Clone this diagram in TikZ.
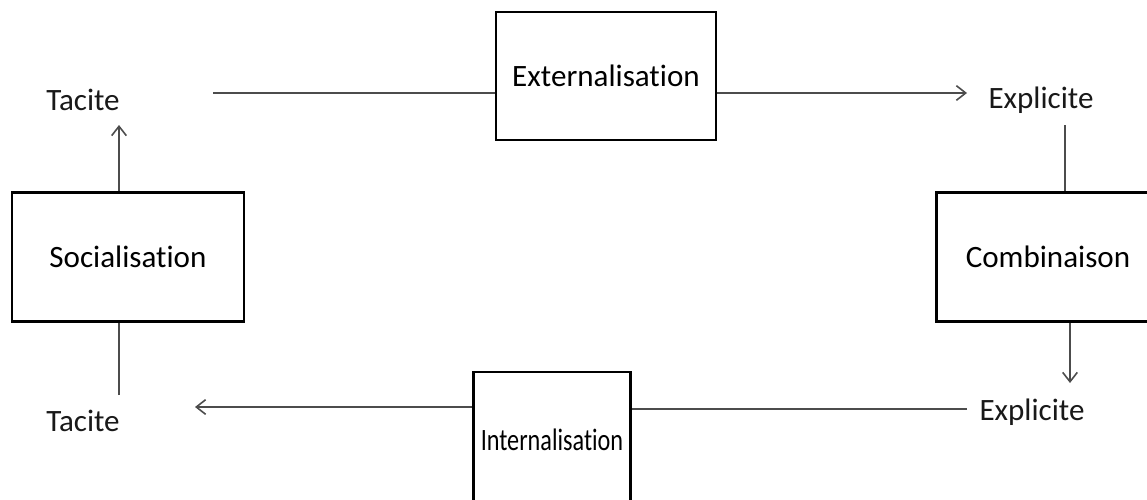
\documentclass[tikz,border=0pt]{standalone}
\usepackage{fontspec}
\usepackage{graphicx}
\setmainfont{Carlito}[Ligatures=NoCommon]
\usetikzlibrary{calc,arrows.meta}

\begin{document}
\begin{tikzpicture}[x=0.75pt,y=-0.75pt,font=\fontsize{23.3}{27}\selectfont,
  boite/.style={draw=black,line width=2.2pt,inner sep=0pt},
  etat/.style={inner sep=0pt,text=black!90},
  lien/.style={draw=black!70,line width=1.2pt},
  fleche/.style={lien,-{Straight Barb[length=7pt,width=11pt,line width=1.2pt]}}]
\useasboundingbox (0,0) rectangle (1147,500);
% les quatre etapes
\node[boite,minimum width=165pt,minimum height=96pt] (ext) at (606,76) {Externalisation};
\node[boite,minimum width=174pt,minimum height=97pt] (soc) at (128,257) {Socialisation};
\node[boite,minimum width=167pt,minimum height=97pt] (comb) at (1048,257) {Combinaison};
\node[boite,minimum width=118pt,minimum height=102pt] (int) at (552,440) {\scalebox{0.78}[1]{Internalisation}};
% les etats
\node[etat] (tac1) at (83,100) {Tacite};
\node[etat] (tac2) at (83,421) {Tacite};
\node[etat] (exp1) at (1041,100) {Explicite};
\node[etat] (exp2) at (1032,412) {Explicite};
% extremites libres
\coordinate (h1) at (213,93);
\coordinate (h2) at (967,93);
\coordinate (v1) at (119,125);
\coordinate (v2) at (119,395);
\coordinate (v3) at (1065,125);
\coordinate (v4) at (1070,383);
\coordinate (b1) at (195,407);
\coordinate (b2) at (967,409);
\draw[lien] (h1) -- (ext.west |- h1);
\draw[fleche] (ext.east |- h1) -- (h2);
\draw[lien] (v3) -- (comb.north -| v3);
\draw[fleche] (comb.south -| v4) -- (v4);
\draw[lien] (b2) -- (int.east |- b2);
\draw[fleche] (int.west |- b1) -- (b1);
\draw[lien] (v2) -- (soc.south -| v2);
\draw[fleche] (soc.north -| v1) -- (v1);
\end{tikzpicture}
\end{document}
